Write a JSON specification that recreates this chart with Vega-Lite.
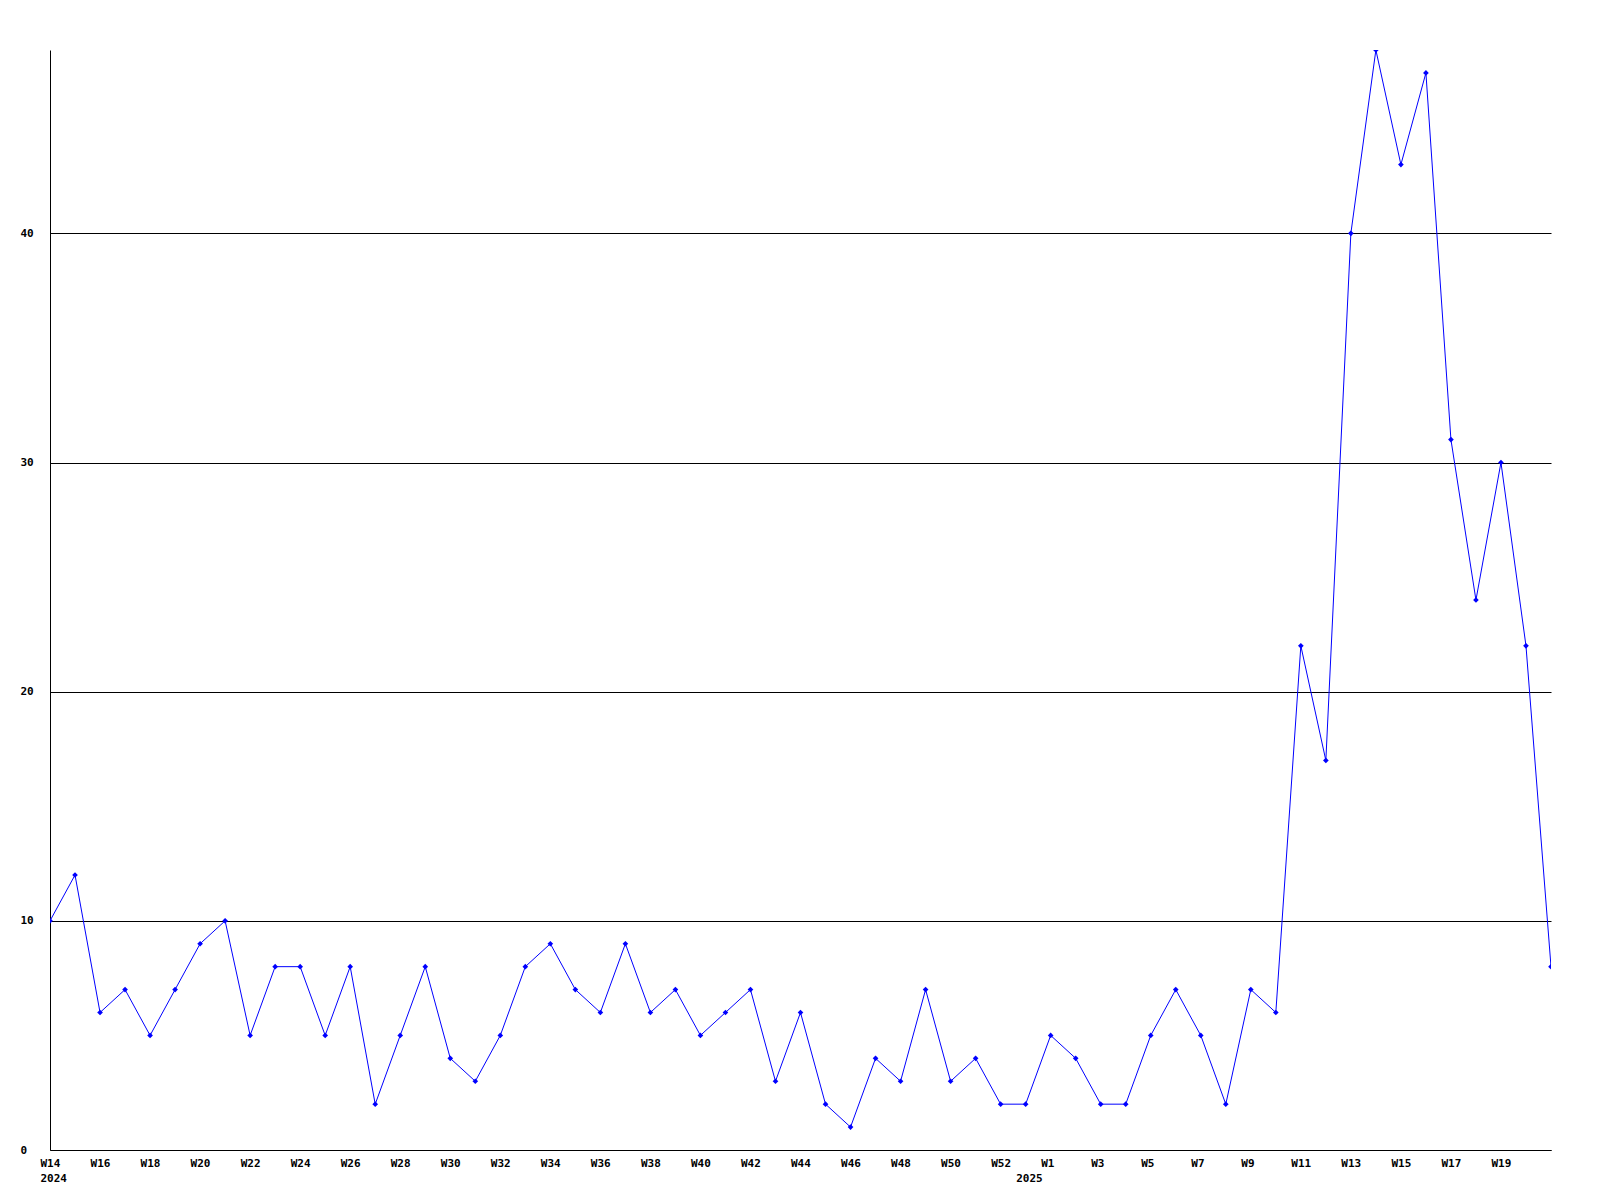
{
  "$schema": "https://vega.github.io/schema/vega-lite/v6.json",
  "width": 1501,
  "height": 1100,
  "autosize": "none",
  "padding": {"left": 50, "top": 50, "right": 49, "bottom": 50},
  "background": "white",
  "config": {"view": {"stroke": null}, "font": "DejaVu Sans Mono"},
  "data": {
    "values": [
      {"k": 0, "week": "2024-W14", "count": 10},
      {"k": 1, "week": "2024-W15", "count": 12},
      {"k": 2, "week": "2024-W16", "count": 6},
      {"k": 3, "week": "2024-W17", "count": 7},
      {"k": 4, "week": "2024-W18", "count": 5},
      {"k": 5, "week": "2024-W19", "count": 7},
      {"k": 6, "week": "2024-W20", "count": 9},
      {"k": 7, "week": "2024-W21", "count": 10},
      {"k": 8, "week": "2024-W22", "count": 5},
      {"k": 9, "week": "2024-W23", "count": 8},
      {"k": 10, "week": "2024-W24", "count": 8},
      {"k": 11, "week": "2024-W25", "count": 5},
      {"k": 12, "week": "2024-W26", "count": 8},
      {"k": 13, "week": "2024-W27", "count": 2},
      {"k": 14, "week": "2024-W28", "count": 5},
      {"k": 15, "week": "2024-W29", "count": 8},
      {"k": 16, "week": "2024-W30", "count": 4},
      {"k": 17, "week": "2024-W31", "count": 3},
      {"k": 18, "week": "2024-W32", "count": 5},
      {"k": 19, "week": "2024-W33", "count": 8},
      {"k": 20, "week": "2024-W34", "count": 9},
      {"k": 21, "week": "2024-W35", "count": 7},
      {"k": 22, "week": "2024-W36", "count": 6},
      {"k": 23, "week": "2024-W37", "count": 9},
      {"k": 24, "week": "2024-W38", "count": 6},
      {"k": 25, "week": "2024-W39", "count": 7},
      {"k": 26, "week": "2024-W40", "count": 5},
      {"k": 27, "week": "2024-W41", "count": 6},
      {"k": 28, "week": "2024-W42", "count": 7},
      {"k": 29, "week": "2024-W43", "count": 3},
      {"k": 30, "week": "2024-W44", "count": 6},
      {"k": 31, "week": "2024-W45", "count": 2},
      {"k": 32, "week": "2024-W46", "count": 1},
      {"k": 33, "week": "2024-W47", "count": 4},
      {"k": 34, "week": "2024-W48", "count": 3},
      {"k": 35, "week": "2024-W49", "count": 7},
      {"k": 36, "week": "2024-W50", "count": 3},
      {"k": 37, "week": "2024-W51", "count": 4},
      {"k": 38, "week": "2024-W52", "count": 2},
      {"k": 39, "week": "2024-W53", "count": 2},
      {"k": 40, "week": "2025-W1", "count": 5},
      {"k": 41, "week": "2025-W2", "count": 4},
      {"k": 42, "week": "2025-W3", "count": 2},
      {"k": 43, "week": "2025-W4", "count": 2},
      {"k": 44, "week": "2025-W5", "count": 5},
      {"k": 45, "week": "2025-W6", "count": 7},
      {"k": 46, "week": "2025-W7", "count": 5},
      {"k": 47, "week": "2025-W8", "count": 2},
      {"k": 48, "week": "2025-W9", "count": 7},
      {"k": 49, "week": "2025-W10", "count": 6},
      {"k": 50, "week": "2025-W11", "count": 22},
      {"k": 51, "week": "2025-W12", "count": 17},
      {"k": 52, "week": "2025-W13", "count": 40},
      {"k": 53, "week": "2025-W14", "count": 48},
      {"k": 54, "week": "2025-W15", "count": 43},
      {"k": 55, "week": "2025-W16", "count": 47},
      {"k": 56, "week": "2025-W17", "count": 31},
      {"k": 57, "week": "2025-W18", "count": 24},
      {"k": 58, "week": "2025-W19", "count": 30},
      {"k": 59, "week": "2025-W20", "count": 22},
      {"k": 60, "week": "2025-W21", "count": 8}
    ]
  },
  "encoding": {
    "x": {
      "field": "k",
      "type": "quantitative",
      "scale": {"domain": [0, 60], "nice": false, "zero": false},
      "axis": {
        "title": null,
        "values": [0, 2, 4, 6, 8, 10, 12, 14, 16, 18, 20, 22, 24, 26, 28, 30, 32, 34, 36, 38, 39, 40, 42, 44, 46, 48, 50, 52, 54, 56, 58],
        "labelExpr": "datum.value == 0 ? ['W14', '2024'] : datum.value == 39 ? ['', '2025'] : datum.value < 39 ? 'W' + (datum.value + 14) : 'W' + (datum.value - 39)",
        "grid": false,
        "ticks": false,
        "tickSize": 0,
        "domainColor": "black",
        "domainWidth": 1,
        "labelFont": "DejaVu Sans Mono",
        "labelFontWeight": "bold",
        "labelFontSize": 11,
        "labelColor": "black",
        "labelAlign": "left",
        "labelOffset": -10,
        "labelBaseline": "top",
        "labelPadding": 7,
        "labelLineHeight": 15,
        "labelOverlap": false,
        "labelFlush": false
      }
    },
    "y": {
      "field": "count",
      "type": "quantitative",
      "scale": {"domain": [0, 48], "nice": false},
      "axis": {
        "title": null,
        "values": [0, 10, 20, 30, 40],
        "grid": true,
        "gridColor": "black",
        "gridWidth": 1,
        "gridOpacity": 1,
        "ticks": false,
        "tickSize": 0,
        "domainColor": "black",
        "domainWidth": 1,
        "labelFont": "DejaVu Sans Mono",
        "labelFontWeight": "bold",
        "labelFontSize": 11,
        "labelColor": "black",
        "labelAlign": "left",
        "labelBaseline": "middle",
        "labelPadding": 30,
        "labelOverlap": false,
        "labelFlush": false
      }
    }
  },
  "layer": [
    {"mark": {"type": "line", "color": "#0000ff", "strokeWidth": 1, "clip": true}},
    {"mark": {"type": "point", "shape": "diamond", "filled": true, "size": 32, "color": "#0000ff", "opacity": 1, "clip": true}}
  ]
}
